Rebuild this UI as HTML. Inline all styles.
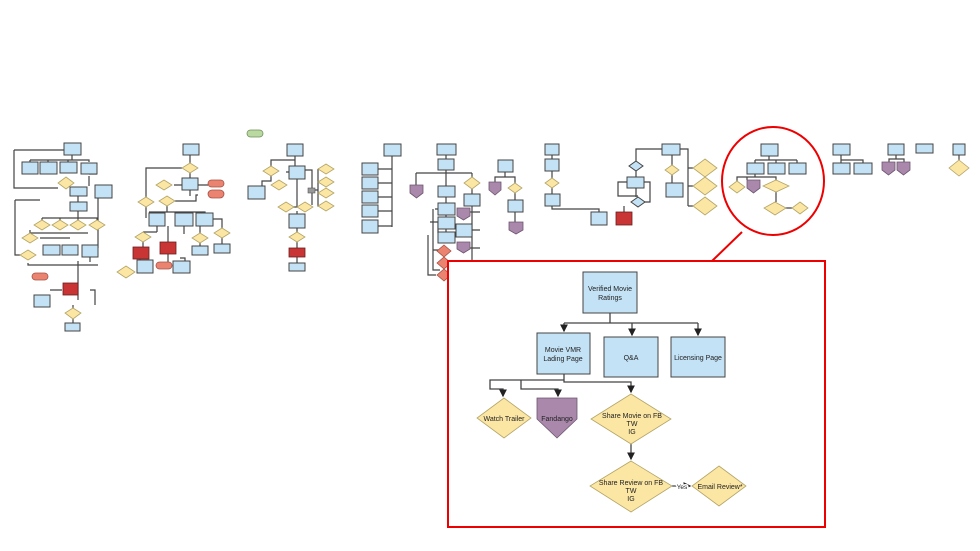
<!DOCTYPE html>
<html><head><meta charset="utf-8"><style>
html,body{margin:0;padding:0;background:#fff;}
svg{display:block;font-family:"Liberation Sans",sans-serif;}
.b{fill:#c3e2f5;stroke:#444;stroke-width:1;}
.y{fill:#fbe6a4;stroke:#b3a466;stroke-width:.8;}
.p{fill:#a988ab;stroke:#6d556f;stroke-width:.8;}
.r{fill:#c93434;stroke:#6b1f1f;stroke-width:.8;}
.s{fill:#ea8370;stroke:#a55044;stroke-width:.8;}
.l{fill:none;stroke:#444;stroke-width:1.2;}
.L{fill:none;stroke:#444;stroke-width:1.3;}
</style></head><body>
<svg width="980" height="551" viewBox="0 0 980 551" xmlns="http://www.w3.org/2000/svg">
<defs><marker id="a" markerWidth="6" markerHeight="6" refX="5" refY="3" orient="auto"><path d="M0,0L6,3L0,6z" fill="#222"/></marker></defs>
<rect width="980" height="551" fill="#fff"/>

<!-- Column 1 -->
<g>
<path class="l" d="M72,155V160M30,160H89V162M30,160V162M48,160V162M68,160V162M14,150H64M14,150V188H58M66,189V187M78,196V202M78,211V218M42,218H97V220M42,218V220M60,218V220M78,218V220M97,218V220M30,233H88M40,238H70M30,238V230M15,200H40M15,200V255H20M28,263V265H98M78,261V300M90,255V262M90,290H95V305M66,284V290M50,290H62M73,305V308M73,319V323M89,176V186M97,174H89M98,198V248"/>
<rect class="b" x="64" y="143" width="17" height="12"/>
<rect class="b" x="22" y="162" width="16" height="12"/>
<rect class="b" x="40" y="162" width="17" height="12"/>
<rect class="b" x="60" y="162" width="17" height="11"/>
<rect class="b" x="81" y="163" width="16" height="11"/>
<polygon class="y" points="66,177 74,183 66,189 58,183"/>
<rect class="b" x="70" y="187" width="17" height="9"/>
<rect class="b" x="95" y="185" width="17" height="13"/>
<rect class="b" x="70" y="202" width="17" height="9"/>
<polygon class="y" points="42,220 50,225 42,230 34,225"/>
<polygon class="y" points="60,220 68,225 60,230 52,225"/>
<polygon class="y" points="78,220 86,225 78,230 70,225"/>
<polygon class="y" points="97,220 105,225 97,230 89,225"/>
<polygon class="y" points="30,233 38,238 30,243 22,238"/>
<polygon class="y" points="28,250 36,255 28,260 20,255"/>
<rect class="b" x="43" y="245" width="17" height="10"/>
<rect class="b" x="62" y="245" width="16" height="10"/>
<rect class="b" x="82" y="245" width="16" height="12"/>
<rect class="s" x="32" y="273" width="16" height="7" rx="3.5"/>
<rect class="r" x="63" y="283" width="15" height="12"/>
<rect class="b" x="34" y="295" width="16" height="12"/>
<polygon class="y" points="73,308 81,313 73,319 65,313"/>
<rect class="b" x="65" y="323" width="15" height="8"/>
</g>

<!-- Column 2 -->
<g>
<path class="l" d="M190,155V163M190,173V178M182,168H146V197M174,185H182M190,190V196M198,185H208M198,195H196V201H175M146,207V218M167,206V212H149M157,212H205V213M175,212V213M196,212V213M157,226V232M157,232H143M184,226V234M143,242V247M168,226V242M168,254V262M140,259V264M180,258H185V261M200,226V233M213,219H222V228M200,243V246M222,238V244"/>
<rect class="b" x="183" y="144" width="16" height="11"/>
<polygon class="y" points="190,163 198,168 190,173 182,168"/>
<polygon class="y" points="164,180 172,185 164,190 156,185"/>
<rect class="b" x="182" y="178" width="16" height="12"/>
<rect class="s" x="208" y="180" width="16" height="7" rx="3.5"/>
<rect class="s" x="208" y="190" width="16" height="8" rx="4"/>
<polygon class="y" points="167,196 175,201 167,206 159,201"/>
<polygon class="y" points="146,197 154,202 146,207 138,202"/>
<rect class="b" x="149" y="213" width="16" height="13"/>
<rect class="b" x="175" y="213" width="18" height="13"/>
<rect class="b" x="196" y="213" width="17" height="13"/>
<polygon class="y" points="143,232 151,237 143,242 135,237"/>
<polygon class="y" points="200,233 208,238 200,243 192,238"/>
<polygon class="y" points="222,228 230,233 222,238 214,233"/>
<rect class="r" x="133" y="247" width="16" height="12"/>
<rect class="r" x="160" y="242" width="16" height="12"/>
<polygon class="y" points="126,266 135,272 126,278 117,272"/>
<rect class="b" x="137" y="260" width="16" height="13"/>
<rect class="s" x="156" y="262" width="16" height="7" rx="3.5"/>
<rect class="b" x="173" y="261" width="17" height="12"/>
<rect class="b" x="192" y="246" width="16" height="9"/>
<rect class="b" x="214" y="244" width="16" height="9"/>
</g>

<rect x="247" y="130" width="16" height="7" rx="3.5" fill="#b9d9a0" stroke="#6f8f5a" stroke-width=".8"/>

<!-- Column 3 -->
<g>
<path class="l" d="M295,156V166M295,160H271V166M271,176V181H262V186M289,172H286M297,179V207M286,212V207H305V212M297,211V214M297,228V232M297,242V248M297,257V263M305,170H312V205M312,190H318M318,169H326M318,169V206H326"/>
<rect class="b" x="287" y="144" width="16" height="12"/>
<polygon class="y" points="271,166 279,171 271,176 263,171"/>
<rect class="b" x="289" y="166" width="16" height="13"/>
<polygon class="y" points="279,180 287,185 279,190 271,185"/>
<rect class="b" x="248" y="186" width="17" height="13"/>
<polygon class="y" points="326,164 334,169 326,174 318,169"/>
<polygon class="y" points="326,177 334,182 326,187 318,182"/>
<polygon class="y" points="326,188 334,193 326,198 318,193"/>
<polygon class="y" points="326,201 334,206 326,211 318,206"/>
<rect x="308" y="188" width="7" height="5" fill="#999" stroke="#555" stroke-width=".6"/>
<polygon class="y" points="286,202 294,207 286,212 278,207"/>
<polygon class="y" points="305,202 313,207 305,212 297,207"/>
<rect class="b" x="289" y="214" width="16" height="14"/>
<polygon class="y" points="297,232 305,237 297,242 289,237"/>
<rect class="r" x="289" y="248" width="16" height="9"/>
<rect class="b" x="289" y="263" width="16" height="8"/>
</g>

<!-- Column 4 -->
<g>
<path class="l" d="M392,156V227M378,169H392M378,183H392M378,197H392M378,211H392M378,226H392"/>
<rect class="b" x="384" y="144" width="17" height="12"/>
<rect class="b" x="362" y="163" width="16" height="12"/>
<rect class="b" x="362" y="177" width="16" height="12"/>
<rect class="b" x="362" y="191" width="16" height="12"/>
<rect class="b" x="362" y="205" width="16" height="12"/>
<rect class="b" x="362" y="220" width="16" height="13"/>
</g>

<!-- Column 5 -->
<g>
<path class="l" d="M446,155V159M446,170V173M416,173H472M416,173V185M446,173V186M472,173V177M472,189V194M435,209H438M433,209V270H440M430,222H438V233M428,235V275H436M440,250H433M446,197V203M446,215V217M446,229V232M472,206V280M470,212H480M472,230H480M470,248H480"/>
<rect class="b" x="437" y="144" width="19" height="11"/>
<rect class="b" x="438" y="159" width="16" height="11"/>
<polygon class="p" points="410,185 423,185 423,193 416.5,198 410,193"/>
<polygon class="y" points="472,177 480,183 472,189 464,183"/>
<rect class="b" x="438" y="186" width="17" height="11"/>
<rect class="b" x="464" y="194" width="16" height="12"/>
<rect class="b" x="438" y="203" width="17" height="12"/>
<rect class="b" x="438" y="217" width="17" height="12"/>
<rect class="b" x="438" y="232" width="17" height="11"/>
<polygon class="p" points="457,208 470,208 470,216 463.5,220 457,216"/>
<polygon class="p" points="457,242 470,242 470,249 463.5,253 457,249"/>
<rect class="b" x="456" y="224" width="16" height="13"/>
<polygon class="s" points="444,245 451,251 444,257 437,251"/>
<polygon class="s" points="444,257 451,263 444,269 437,263"/>
<polygon class="s" points="444,269 451,275 444,281 437,275"/>
</g>

<!-- Column 6 -->
<g>
<path class="l" d="M505,172V177H495V182M505,177H515V183M515,193V200M515,212V222"/>
<rect class="b" x="498" y="160" width="15" height="12"/>
<polygon class="p" points="489,182 501,182 501,190 495,195 489,190"/>
<polygon class="y" points="515,183 522,188 515,193 508,188"/>
<rect class="b" x="508" y="200" width="15" height="12"/>
<polygon class="p" points="509,222 523,222 523,230 516,234 509,230"/>
</g>

<!-- Column 7 -->
<g>
<path class="l" d="M552,155V159M552,171V178M552,188V194M552,206V209H599V212"/>
<rect class="b" x="545" y="144" width="14" height="11"/>
<rect class="b" x="545" y="159" width="14" height="12"/>
<polygon class="y" points="552,178 559,183 552,188 545,183"/>
<rect class="b" x="545" y="194" width="15" height="12"/>
<rect class="b" x="591" y="212" width="16" height="13"/>
</g>

<!-- Column 8 -->
<g>
<path class="l" d="M662,149H636V161M671,149H672V165M680,149H688V206M688,168H693M688,186H693M688,206H693M636,171V177M672,175V183M636,188V197M624,206V212M627,182H618V196H638M644,182H650V202H643"/>
<rect class="b" x="662" y="144" width="18" height="11"/>
<polygon class="b" points="636,161 643,166 636,171 629,166"/>
<polygon class="y" points="672,165 679,170 672,175 665,170"/>
<rect class="b" x="627" y="177" width="17" height="11"/>
<rect class="b" x="666" y="183" width="17" height="14"/>
<polygon class="b" points="638,197 645,202 638,207 631,202"/>
<rect class="r" x="616" y="212" width="16" height="13"/>
<polygon class="y" points="705,159 717,168 705,177 693,168"/>
<polygon class="y" points="705,177 717,186 705,195 693,186"/>
<polygon class="y" points="705,197 717,206 705,215 693,206"/>
</g>

<!-- Column 9 (circled) -->
<g>
<path class="l" d="M769,156V160M755,160H797M755,160V163M776,160V163M797,160V163M755,174V177H737V181M747,177V180M755,177H776V180M776,192V202M784,208H792"/>
<rect class="b" x="761" y="144" width="17" height="12"/>
<rect class="b" x="747" y="163" width="17" height="11"/>
<rect class="b" x="768" y="163" width="17" height="11"/>
<rect class="b" x="789" y="163" width="17" height="11"/>
<polygon class="y" points="737,181 745,187 737,193 729,187"/>
<polygon class="p" points="747,180 760,180 760,188 753.5,193 747,188"/>
<polygon class="y" points="776,180 789,186 776,192 763,186"/>
<polygon class="y" points="775,202 786,208 775,215 764,208"/>
<polygon class="y" points="800,202 808,208 800,214 792,208"/>
</g>

<!-- Columns 10-13 -->
<g>
<path class="l" d="M841,155V160H863V163M841,160V163M896,155V159H889V162M896,159H904V162M959,155V160"/>
<rect class="b" x="833" y="144" width="17" height="11"/>
<rect class="b" x="833" y="163" width="17" height="11"/>
<rect class="b" x="854" y="163" width="18" height="11"/>
<rect class="b" x="888" y="144" width="16" height="11"/>
<polygon class="p" points="882,162 895,162 895,170 888.5,175 882,170"/>
<polygon class="p" points="897,162 910,162 910,170 903.5,175 897,170"/>
<rect class="b" x="916" y="144" width="17" height="9"/>
<rect class="b" x="953" y="144" width="12" height="11"/>
<polygon class="y" points="959,160 969,168 959,176 949,168"/>
</g>

<!-- Circle & callout -->
<ellipse cx="773" cy="181" rx="51" ry="54" fill="none" stroke="#e00" stroke-width="2"/>
<line x1="712" y1="261" x2="742" y2="232" stroke="#e00" stroke-width="2"/>
<rect x="448" y="261" width="377" height="266" fill="#fff" stroke="#e00" stroke-width="2"/>

<!-- Inset -->
<g font-size="7" fill="#222" text-anchor="middle">
<path class="L" d="M610,313V323M564,323H698"/>
<path class="L" d="M564,323V331" marker-end="url(#a)"/>
<path class="L" d="M632,323V335" marker-end="url(#a)"/>
<path class="L" d="M698,323V335" marker-end="url(#a)"/>
<path class="L" d="M564,374V382H631V392" marker-end="url(#a)"/>
<path class="L" d="M564,380H490V389H503V396" marker-end="url(#a)"/>
<path class="L" d="M521,380V389H558V396" marker-end="url(#a)"/>
<path class="L" d="M631,444V459" marker-end="url(#a)"/>
<path class="L" d="M672,486H690" marker-end="url(#a)"/>
<rect class="b" x="583" y="272" width="54" height="41"/>
<rect class="b" x="537" y="333" width="53" height="41"/>
<rect class="b" x="604" y="337" width="54" height="40"/>
<rect class="b" x="671" y="337" width="54" height="40"/>
<polygon class="y" points="504,398 531,418 504,438 477,418"/>
<polygon class="p" points="537,398 577,398 577,419 557,438 537,419"/>
<polygon class="y" points="631,394 671,419 631,444 591,419"/>
<polygon class="y" points="631,461 672,486 631,512 590,486"/>
<polygon class="y" points="719,466 746,486 719,506 692,486"/>
<text x="610" y="291">Verified Movie</text><text x="610" y="300">Ratings</text>
<text x="563" y="352">Movie VMR</text><text x="563" y="361">Lading Page</text>
<text x="631" y="360">Q&amp;A</text>
<text x="698" y="360">Licensing Page</text>
<text x="504" y="421">Watch Trailer</text>
<text x="557" y="421">Fandango</text>
<text x="632" y="418">Share Movie on FB</text><text x="632" y="426">TW</text><text x="632" y="434">IG</text>
<text x="631" y="485">Share Review on FB</text><text x="631" y="493">TW</text><text x="631" y="501">IG</text>
<text x="682" y="489" font-size="6.5" fill="#fff" stroke="#fff" stroke-width="3">Yes</text>
<text x="682" y="489" font-size="6.5">Yes</text>
<text x="720" y="489">Email Review*</text>
</g>
</svg>
</body></html>
